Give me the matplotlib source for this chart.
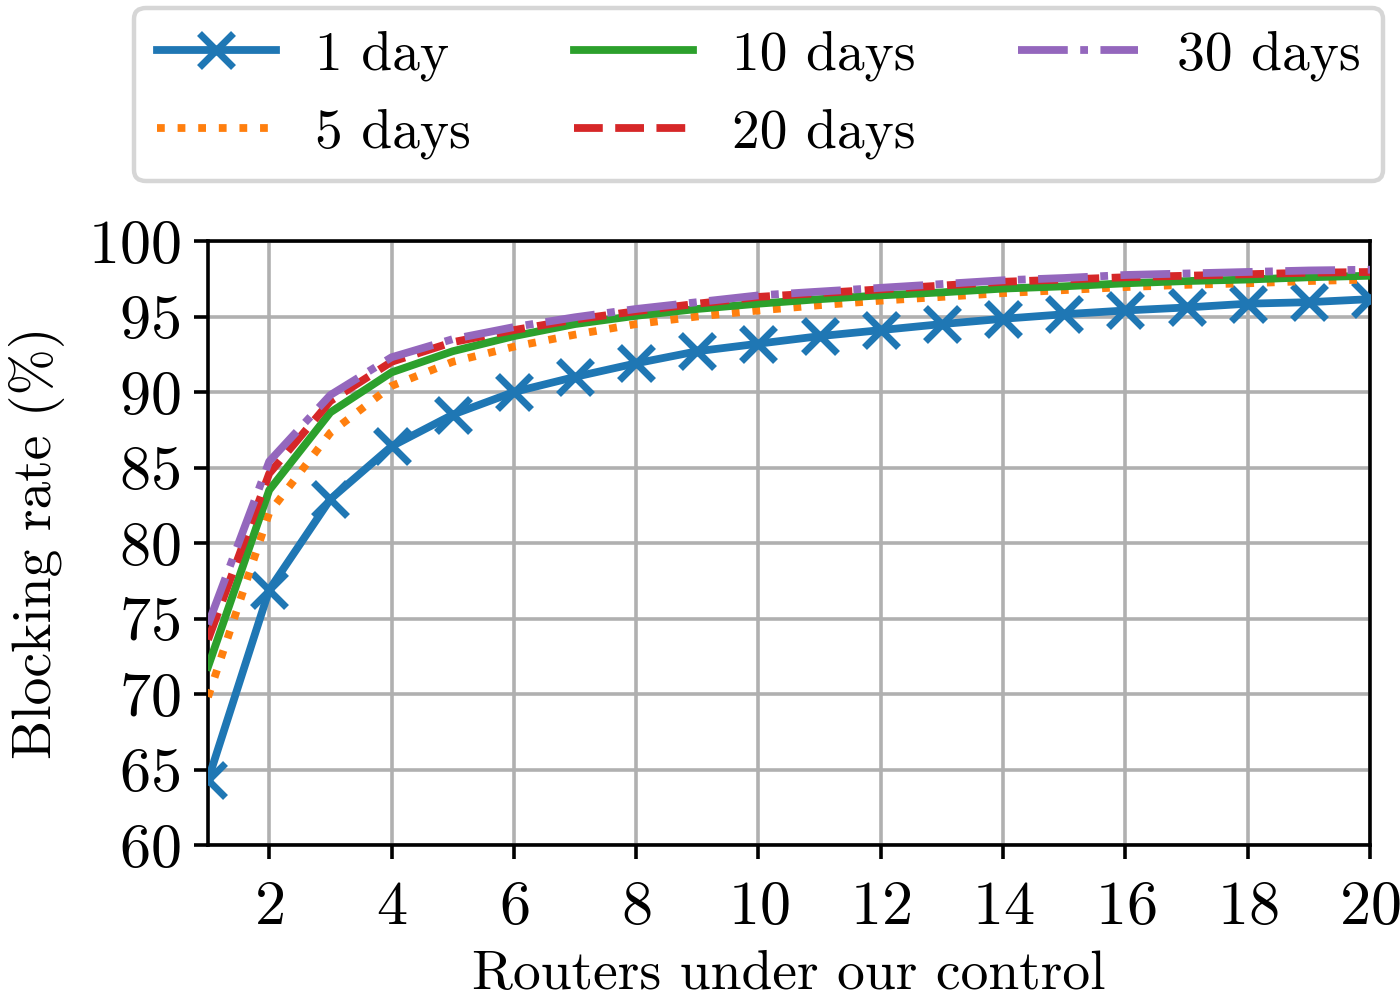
import matplotlib
matplotlib.use("Agg")
import matplotlib.pyplot as plt

plt.rcParams['font.family'] = ['cmr10', 'DejaVu Serif']
plt.rcParams['mathtext.fontset'] = 'cm'
plt.rcParams['axes.unicode_minus'] = False
plt.rcParams['axes.formatter.use_mathtext'] = True

routers = list(range(1, 21))
one_day = [64.3, 76.9, 82.9, 86.4, 88.5, 90.0, 91.0, 91.9, 92.7, 93.2,
           93.7, 94.1, 94.5, 94.85, 95.15, 95.4, 95.6, 95.85, 95.95, 96.15]
five_days = [69.8, 82.0, 87.3, 90.4, 92.0, 93.0, 93.8, 94.5, 95.0, 95.4,
             95.75, 96.05, 96.3, 96.55, 96.75, 96.95, 97.1, 97.2, 97.35, 97.45]
ten_days = [71.8, 83.5, 88.65, 91.3, 92.7, 93.7, 94.5, 95.05, 95.5, 95.85,
            96.15, 96.4, 96.6, 96.85, 97.0, 97.2, 97.35, 97.45, 97.6, 97.7]
twenty_days = [73.6, 84.6, 89.4, 92.0, 93.3, 94.1, 94.8, 95.35, 95.85, 96.3,
               96.55, 96.8, 97.05, 97.3, 97.45, 97.6, 97.7, 97.8, 97.9, 97.95]
thirty_days = [74.6, 85.4, 89.8, 92.3, 93.5, 94.3, 94.95, 95.5, 95.95, 96.4,
               96.65, 96.9, 97.15, 97.4, 97.55, 97.75, 97.85, 97.95, 98.05, 98.1]

labels = ["1 day", "5 days", "10 days", "20 days", "30 days"]
xticks = list(range(2, 21, 2))
yticks = list(range(60, 101, 5))

FS = 20.0
TFS = 22.4
fig = plt.figure(figsize=(7.0, 4.99), dpi=200)
ax = fig.add_axes([0.1486, 0.1533, 0.83, 0.6052])

lw = 2.8
ax.plot(routers, one_day, color='#1f77b4', lw=lw, marker='x', markersize=12,
        markeredgewidth=2.5, label=labels[0], zorder=3)
ax.plot(routers, five_days, color='#ff7f0e', lw=lw, linestyle=':', label=labels[1], zorder=3)
ax.plot(routers, ten_days, color='#2ca02c', lw=lw, linestyle='-', label=labels[2], zorder=3)
ax.plot(routers, twenty_days, color='#d62728', lw=lw, linestyle='--', label=labels[3], zorder=3)
ax.plot(routers, thirty_days, color='#9467bd', lw=lw, linestyle='-.', label=labels[4], zorder=3)

ax.set_xlim(1, 20)
ax.set_ylim(60, 100)
ax.set_xticks(xticks)
ax.set_yticks(yticks)
ax.grid(True, color='#b0b0b0', linewidth=1.3)
ax.set_axisbelow(True)
for s in ax.spines.values():
    s.set_linewidth(1.3)
    s.set_color('black')
ax.tick_params(direction='out', length=5, width=1.3, labelsize=TFS)
ax.tick_params(axis='x', pad=8)
ax.tick_params(axis='y', pad=5)
ax.set_xlabel("Routers under our control", fontsize=FS, labelpad=5)
ax.set_ylabel("Blocking rate (%)", fontsize=FS, labelpad=8)

leg = fig.legend(loc='upper center', bbox_to_anchor=(0.5418, 0.992),
                 bbox_transform=fig.transFigure, ncol=3, fontsize=FS,
                 handlelength=2.15, handletextpad=0.7, columnspacing=1.85,
                 labelspacing=0.5, borderaxespad=0, frameon=True, fancybox=True)
leg.get_frame().set_edgecolor('#cccccc')
leg.get_frame().set_linewidth(1.6)

fig.savefig("out.png", dpi=200)
